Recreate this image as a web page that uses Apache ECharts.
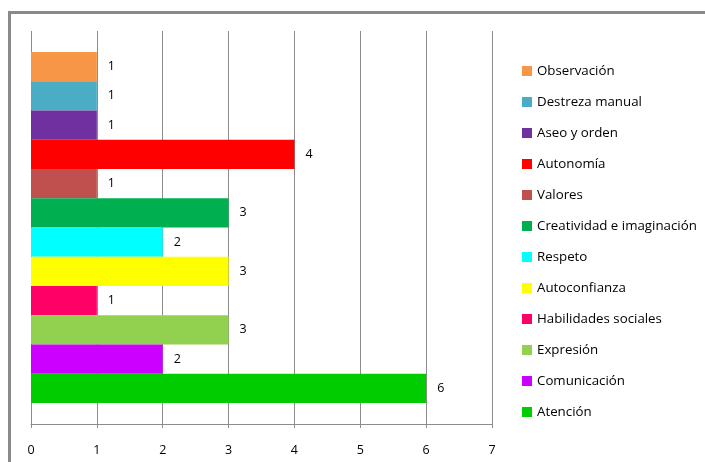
<!DOCTYPE html>
<html><head><meta charset="utf-8">
<script src="https://cdn.jsdelivr.net/npm/echarts@6/dist/echarts.min.js"></script>
<style>html,body{margin:0;padding:0;background:#fff}#c{width:705px;height:462px}</style>
</head><body><div id="c"></div>
<script>
// Order from top to bottom
var names = ['Observación','Destreza manual','Aseo y orden','Autonomía','Valores','Creatividad e imaginación','Respeto','Autoconfianza','Habilidades sociales','Expresión','Comunicación','Atención'];
var values = [1,1,1,4,1,3,2,3,1,3,2,6];
var colors = ['#F79646','#4BACC6','#7030A0','#FF0000','#C0504D','#00B050','#00FFFF','#FFFF00','#FF0066','#92D050','#CC00FF','#00CC00'];
var xTicks = [0,1,2,3,4,5,6,7];

var font = 'Open Sans';
var series = names.map(function(n,i){
  return {
    name:n, type:'bar', data:[values[i]], barGap:'0%', barCategoryGap:'10.7%',
    itemStyle:{color:colors[i]},
    label:{show:true, position:'right', distance:11, color:'#000', fontSize:12.5, fontFamily:font},
    emphasis:{disabled:true}, animation:false
  };
});
var chart = echarts.init(document.getElementById('c'));
chart.setOption({
  animation:false,
  grid:{left:31, right:213, top:31, bottom:38, containLabel:false},
  xAxis:{type:'value', min:xTicks[0], max:xTicks[xTicks.length-1], interval:1,
    axisLine:{show:true, lineStyle:{color:'#8c8c8c', width:1}},
    axisTick:{show:true, length:4, lineStyle:{color:'#8c8c8c'}},
    axisLabel:{color:'#000', fontSize:12.5, fontFamily:font, margin:20},
    splitLine:{show:true, lineStyle:{color:'#8c8c8c', width:1}}},
  yAxis:{type:'category', data:[''], axisLine:{show:false}, axisTick:{show:false}, axisLabel:{show:false}},
  legend:{orient:'vertical', left:517, top:57, itemWidth:10, itemHeight:10, itemGap:13,
    data:names, textStyle:{color:'#000', fontSize:13.3, fontFamily:font, lineHeight:18},
    icon:'rect', selectedMode:false},
  graphic:[{type:'rect', shape:{x:9.5, y:12.5, width:900, height:700}, style:{fill:'none', stroke:'#8a8a8a', lineWidth:3}, silent:true}],
  series:series
});
</script></body></html>
